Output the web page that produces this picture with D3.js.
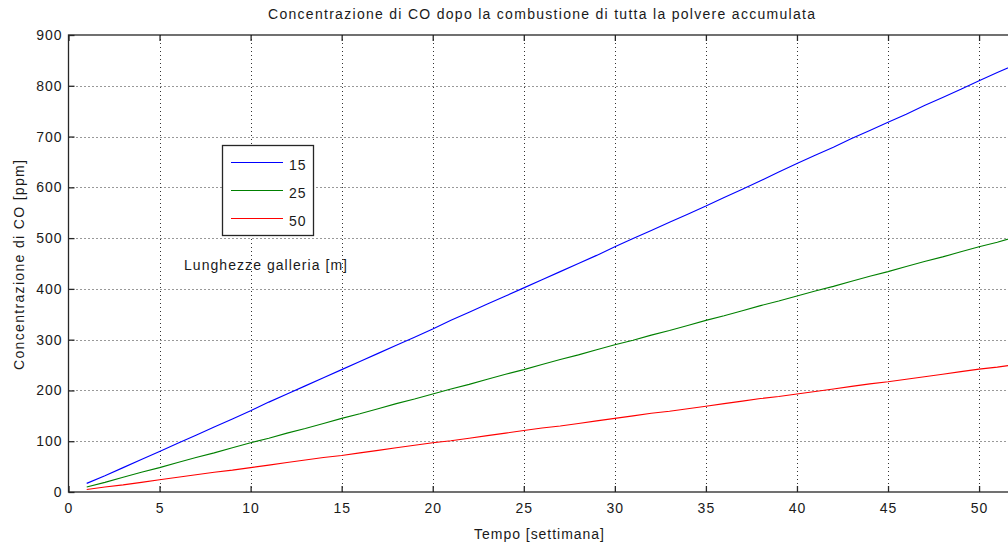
<!DOCTYPE html>
<html>
<head>
<meta charset="utf-8">
<script src="https://cdn.jsdelivr.net/npm/d3@7"></script>
<style>
  html, body { margin: 0; padding: 0; background: #fff; }
  svg { display: block; font-family: "Liberation Sans", Arial, sans-serif; }
</style>
</head>
<body>
<svg id="chart" width="1008" height="546"></svg>
<script>
// Weeks of accumulation
const weeks = d3.range(1, 53);

// CO concentration [ppm] for each gallery length
const co15 = [17, 32, 48, 64, 80, 96, 112, 128, 144, 160, 177, 193, 209, 225, 241, 257, 273, 289, 305, 321,
              338, 354, 370, 386, 402, 418, 434, 450, 466, 483, 499, 515, 531, 547, 563, 580, 596, 613, 630, 647,
              663, 679, 696, 712, 728, 744, 761, 777, 793, 810, 826, 842];
const co25 = [10, 19, 29, 39, 48, 58, 68, 77, 87, 97, 106, 116, 125, 135, 145, 154, 164, 174, 183, 193,
              203, 212, 222, 232, 241, 251, 261, 270, 280, 290, 299, 309, 318, 328, 338, 347, 357, 367, 376, 386,
              396, 405, 415, 425, 434, 444, 454, 463, 473, 483, 492, 502];
const co50 = [5, 10, 14, 19, 24, 29, 34, 39, 43, 48, 53, 58, 63, 68, 72, 77, 82, 87, 92, 97,
              101, 106, 111, 116, 121, 126, 130, 135, 140, 145, 150, 155, 159, 164, 169, 174, 179, 184, 188, 193,
              198, 203, 208, 213, 217, 222, 227, 232, 237, 242, 246, 251];

const seriesNames = ["15", "25", "50"];
const seriesColors = ["#0000ff", "#008000", "#ff0000"];
const seriesValues = [co15, co25, co50];

const xTicks = [0, 5, 10, 15, 20, 25, 30, 35, 40, 45, 50];
const yTicks = [0, 100, 200, 300, 400, 500, 600, 700, 800, 900];

const titleText = "Concentrazione di CO dopo la combustione di tutta la polvere accumulata";
const xLabel = "Tempo [settimana]";
const yLabel = "Concentrazione di CO [ppm]";
const legendNote = "Lunghezze galleria [m]";

(function draw() {
  const svg = d3.select("#chart");
  const pL = 68.5, pR = 1015.5, pT = 35, pB = 492;

  const x = d3.scaleLinear().domain([0, 52]).range([pL, pR]);
  const y = d3.scaleLinear().domain([0, 900]).range([pB, pT]);

  const axisColor = "#262626";
  const textColor = "#1a1a1a";
  const fontSize = 14;
  const spacing = "1px";

  const plot = svg.append("g");

  // Dotted grid
  plot.append("g").selectAll("line").data(xTicks.filter(d => d > 0)).join("line")
    .attr("x1", d => Math.round(x(d)) + 0.5).attr("x2", d => Math.round(x(d)) + 0.5)
    .attr("y1", pT).attr("y2", pB)
    .attr("stroke", "#333").attr("stroke-width", 1).attr("stroke-dasharray", "1,3");
  plot.append("g").selectAll("line").data(yTicks.filter(d => d > 0 && d < 900)).join("line")
    .attr("y1", d => Math.round(y(d)) + 0.5).attr("y2", d => Math.round(y(d)) + 0.5)
    .attr("x1", pL).attr("x2", pR)
    .attr("stroke", "#333").attr("stroke-width", 1).attr("stroke-dasharray", "1,3");

  // Data lines
  const line = d3.line().x((d, i) => x(weeks[i])).y(d => y(d));
  seriesValues.forEach((vals, k) => {
    plot.append("path").datum(vals)
      .attr("d", line)
      .attr("fill", "none")
      .attr("stroke", seriesColors[k])
      .attr("stroke-width", 1.1);
  });

  // Axes with inward ticks
  const xAxisB = d3.axisBottom(x).tickValues(xTicks).tickSize(-6).tickPadding(11).tickFormat(d3.format("d"));
  const xAxisT = d3.axisTop(x).tickValues(xTicks).tickSize(-6).tickFormat("");
  const yAxisL = d3.axisLeft(y).tickValues(yTicks).tickSize(-6).tickPadding(6).tickFormat(d3.format("d"));
  const yAxisR = d3.axisRight(y).tickValues(yTicks).tickSize(-6).tickFormat("");

  function styleAxis(g) {
    g.select(".domain").remove();
    g.selectAll(".tick line").attr("stroke", axisColor).attr("stroke-width", 1.3);
    g.selectAll(".tick text").attr("fill", textColor).style("font-size", fontSize + "px")
      .style("letter-spacing", spacing)
      .style("font-family", "'Liberation Sans', Arial, sans-serif");
  }
  svg.append("g").attr("transform", `translate(0,${pB})`).call(xAxisB).call(styleAxis);
  svg.append("g").attr("transform", `translate(0,${pT})`).call(xAxisT).call(styleAxis);
  svg.append("g").attr("transform", `translate(${pL},0)`).call(yAxisL).call(styleAxis);
  svg.append("g").attr("transform", `translate(${pR},0)`).call(yAxisR).call(styleAxis);

  // Axes box
  svg.append("rect")
    .attr("x", pL).attr("y", pT)
    .attr("width", pR - pL).attr("height", pB - pT)
    .attr("fill", "none").attr("stroke", axisColor).attr("stroke-width", 1.3);

  // Title and axis labels
  svg.append("text").attr("x", 268).attr("y", 19)
    .attr("textLength", 547).attr("lengthAdjust", "spacing")
    .attr("fill", textColor).style("font-size", fontSize + "px")
    .text(titleText);
  svg.append("text").attr("x", 474).attr("y", 539)
    .attr("textLength", 130).attr("lengthAdjust", "spacing")
    .attr("fill", textColor).style("font-size", fontSize + "px")
    .text(xLabel);
  svg.append("text")
    .attr("transform", "translate(24,370) rotate(-90)")
    .attr("textLength", 210).attr("lengthAdjust", "spacing")
    .attr("fill", textColor).style("font-size", fontSize + "px")
    .text(yLabel);

  // Legend
  const lg = svg.append("g");
  lg.append("rect").attr("x", 222.5).attr("y", 145.5).attr("width", 91).attr("height", 90)
    .attr("fill", "#fff").attr("stroke", axisColor).attr("stroke-width", 1.3);
  seriesNames.forEach((name, k) => {
    const ly = 162.5 + k * 28;
    lg.append("line").attr("x1", 231).attr("x2", 283).attr("y1", ly).attr("y2", ly)
      .attr("stroke", seriesColors[k]).attr("stroke-width", 1.1);
    lg.append("text").attr("x", 289).attr("y", ly + 7.5)
      .attr("fill", textColor).style("font-size", fontSize + "px")
      .style("letter-spacing", spacing).text(name);
  });
  svg.append("text").attr("x", 184).attr("y", 270)
    .attr("textLength", 163).attr("lengthAdjust", "spacing")
    .attr("fill", textColor).style("font-size", fontSize + "px").text(legendNote);
})();
</script>
</body>
</html>
